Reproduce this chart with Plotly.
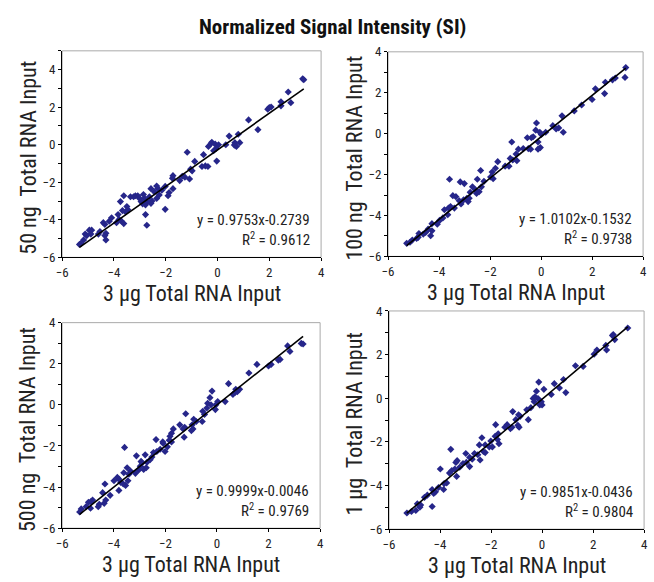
import plotly.graph_objects as go

# ---------------- data ----------------
panel_names = ["50 ng", "100 ng", "500 ng", "1 µg"]
x_title = "3 µg Total RNA Input"
y_titles = ["50 ng\u00a0 Total RNA Input", "100 ng\u00a0 Total RNA Input",
            "500 ng\u00a0 Total RNA Input", "1 µg\u00a0 Total RNA Input"]
slopes = [0.9753, 1.0102, 0.9999, 0.9851]
intercepts = [-0.2739, -0.1532, -0.0046, -0.0436]
r_squared = [0.9612, 0.9738, 0.9769, 0.9804]
eq_labels = ["y = 0.9753x-0.2739", "y = 1.0102x-0.1532", "y = 0.9999x-0.0046", "y = 0.9851x-0.0436"]
r2_labels = ["0.9612", "0.9738", "0.9769", "0.9804"]

x_50ng = [3.29, 3.33, 2.73, 2.83, 2.45, 2.45, 2.07, 1.94, 2.0, 1.2, 1.56, 0.8, 0.67, 0.73, 0.65, 0.45, 0.32, 0.86,
          -0.24, -0.22, -0.09, 0.04, -0.05, -0.15, -0.35, -0.03, -0.54, -0.47, -0.6, -0.37, -1.17, -0.88, -0.98,
          -1.04, -1.08, -1.26, -1.36, -1.46, -1.72, -1.74, -1.72, -1.87, -1.91, -2.02, -2.02, -2.15, -2.25, -2.3,
          -2.35, -2.35, -2.44, -2.53, -2.57, -2.57, -2.63, -2.72, -2.73, -2.78, -2.78, -2.82, -2.86, -2.89, -3.01,
          -2.95, -3.08, -3.17, -3.24, -3.36, -3.46, -3.5, -3.55, -3.62, -3.67, -3.75, -3.62, -3.71, -3.8, -3.84,
          -3.9, -4.09, -4.18, -4.35, -4.41, -4.31, -4.35, -4.31, -4.54, -4.6, -4.86, -4.95, -4.89, -5.05, -5.11,
          -5.17, -5.28, -5.33]
y_50ng = [3.51, 3.46, 2.81, 2.24, 2.29, 2.07, 2.01, 1.89, 1.98, 1.32, 0.8, 0.56, 0.11, -0.09, -0.02, 0.46, 0.0, 0.11,
          0.08, 0.13, 0.03, 0.0, -0.2, -0.32, -0.09, -0.87, -0.53, -1.13, -1.16, -1.16, -0.4, -0.89, -1.39,
          -1.3, -1.82, -1.73, -1.68, -1.91, -1.65, -1.79, -2.34, -2.55, -2.72, -2.22, -3.44, -2.42, -2.68, -2.34,
          -2.2, -2.86, -2.51, -3.0, -2.34, -3.12, -2.77, -3.03, -4.29, -3.72, -3.2, -2.86, -2.65, -3.15, -2.86,
          -3.03, -2.72, -2.72, -2.77, -2.77, -3.46, -3.29, -3.58, -2.72, -3.51, -3.03, -4.2, -4.07, -3.98, -3.72,
          -4.15, -3.89, -4.07, -4.24, -4.15, -4.72, -4.84, -5.07, -4.62, -4.76, -4.55, -4.55, -4.76, -4.84, -4.76,
          -5.07, -5.27, -5.31]

x_100ng = [3.32, 3.29, 2.91, 2.8, 2.52, 2.49, 2.13, 2.0, 1.59, 1.3, 0.82, 0.87, 0.69, 0.59, 0.46, 0.18, 0.01, -0.05,
           -0.12, -0.03, -0.18, -0.21, -0.31, -0.38, -0.54, -0.12, -0.5, -0.41, -0.7, -1.15, -0.89, -0.98, -0.95,
           -1.11, -1.21, -1.26, -1.41, -1.7, -1.79, -1.92, -1.88, -1.98, -2.24, -2.37, -2.34, -2.5, -2.53, -2.43,
           -2.56, -2.69, -2.78, -2.82, -2.86, -2.91, -3.04, -3.01, -3.17, -3.14, -3.21, -3.34, -3.46, -3.4, -3.55,
           -3.59, -3.66, -3.63, -3.79, -3.85, -3.98, -4.07, -4.28, -4.33, -4.28, -4.43, -4.53, -4.62, -4.79, -4.82,
           -4.88, -5.05, -5.14, -5.27]
y_100ng = [3.23, 2.75, 2.72, 2.63, 2.51, 1.96, 2.19, 1.67, 1.4, 1.11, 0.87, 0.07, 0.28, 0.23, 0.39, 0.07, -0.04, 0.07,
           -0.41, -0.68, 0.52, 0.17, -0.15, -0.2, -0.2, -0.76, -0.73, -0.76, -0.73, -0.41, -0.76, -1.0, -1.32,
           -1.29, -1.21, -1.59, -1.59, -1.37, -1.69, -1.88, -2.2, -2.12, -2.33, -1.8, -2.6, -2.23, -2.92, -2.84,
           -2.76, -2.6, -2.87, -3.16, -3.32, -3.16, -3.24, -2.44, -2.36, -3.44, -3.28, -3.08, -3.03, -3.64, -3.56,
           -2.23, -3.96, -3.64, -3.72, -4.12, -4.24, -4.43, -4.4, -4.99, -4.75, -4.67, -4.83, -4.91, -4.88, -5.07,
           -5.12, -5.2, -5.31, -5.36]

x_500ng = [3.27, 3.34, 2.74, 2.83, 2.45, 2.38, 2.1, 2.0, 1.55, 1.24, 0.88, 0.79, 0.73, 0.7, 0.62, 0.45, 0.32, 0.03,
           -0.04, -0.06, -0.19, -0.27, -0.36, -0.23, -0.39, -0.48, -0.55, -0.57, -0.8, -0.9, -0.96, -0.93, -0.99,
           -1.21, -1.25, -1.31, -1.27, -1.44, -1.69, -1.76, -1.82, -1.85, -1.76, -1.92, -2.1, -2.08, -2.01, -2.2,
           -2.33, -2.36, -2.46, -2.52, -2.59, -2.71, -2.74, -2.84, -2.78, -2.9, -2.94, -2.97, -3.03, -3.12, -3.16,
           -3.35, -3.41, -3.48, -3.58, -3.61, -3.45, -3.54, -3.63, -3.73, -3.8, -3.86, -3.8, -3.99, -4.14, -4.34,
           -4.31, -4.37, -4.43, -4.56, -4.6, -4.82, -4.88, -4.9, -4.98, -5.07, -5.26, -5.32]
y_500ng = [2.99, 2.96, 2.87, 2.6, 2.21, 2.18, 1.97, 1.89, 1.97, 1.55, 0.76, 0.64, 0.76, 0.6, 0.51, 1.03, 0.16, 0.16,
           0.0, -0.23, 0.67, 0.35, 0.08, 0.0, -0.15, -0.47, -0.31, -0.81, -0.81, -0.7, -0.97, -1.17, -1.25,
           -0.43, -1.09, -1.17, -1.57, -0.97, -1.17, -1.38, -1.53, -1.72, -1.8, -2.04, -1.8, -1.88, -2.27, -2.16,
           -2.27, -1.69, -2.32, -2.54, -2.67, -2.79, -3.06, -3.14, -2.43, -2.82, -2.75, -2.98, -3.17, -2.48, -3.33,
           -3.22, -3.37, -3.06, -2.07, -3.3, -3.69, -3.92, -3.85, -3.77, -3.61, -3.53, -4.16, -3.69, -4.4, -3.85,
           -4.63, -4.79, -4.27, -4.84, -4.95, -4.63, -4.71, -5.03, -4.74, -4.95, -5.06, -5.21]

x_1ug = [3.36, 2.79, 2.85, 2.76, 2.5, 2.53, 2.15, 2.04, 1.61, 1.31, 0.93, 0.84, 0.68, 0.48, 0.36, 0.07, 0.0, -0.09,
         -0.03, -0.13, -0.22, -0.28, -0.16, -0.31, -0.35, -0.44, -0.54, -0.6, -0.86, -0.92, -0.95, -0.9, -1.15,
         -1.03, -1.18, -1.24, -1.37, -1.46, -1.82, -1.72, -1.84, -1.75, -1.69, -2.01, -2.07, -1.95, -2.23, -2.36,
         -2.3, -2.23, -2.46, -2.52, -2.43, -2.65, -2.74, -2.84, -2.99, -2.97, -2.84, -3.1, -3.23, -3.33, -3.38,
         -3.35, -3.42, -3.54, -3.58, -3.63, -3.74, -3.84, -3.86, -3.99, -4.06, -4.18, -4.25, -4.31, -4.31, -4.5,
         -4.61, -4.76, -4.89, -4.79, -4.95, -5.12, -5.3]
y_1ug = [3.22, 2.92, 2.69, 2.87, 2.42, 2.21, 2.21, 2.02, 1.46, 1.49, 0.26, 0.86, 0.47, 0.67, 0.17, 0.41, -0.31, -0.31,
         -0.16, 0.74, 0.32, 0.07, -0.01, -0.16, -0.01, -0.43, -0.98, -0.53, -0.83, -0.76, -1.24, -1.33, -0.61,
         -0.98, -1.33, -1.39, -1.21, -1.33, -1.21, -1.63, -1.74, -1.89, -2.08, -1.96, -2.23, -2.23, -2.14, -1.81,
         -2.44, -2.49, -2.14, -2.59, -2.83, -2.53, -2.79, -2.71, -2.53, -2.94, -3.13, -2.99, -3.16, -2.86, -2.94,
         -3.58, -3.24, -3.31, -2.34, -3.43, -3.88, -3.91, -4.18, -3.24, -4.09, -4.29, -4.36, -4.18, -4.96, -4.44,
         -4.54, -4.89, -4.84, -4.99, -5.14, -5.19, -5.26]

x_data = [x_50ng, x_100ng, x_500ng, x_1ug]
y_data = [y_50ng, y_100ng, y_500ng, y_1ug]
y_ranges = [[-6, 5], [-6, 4], [-6, 4], [-6, 4]]

# ---------------- layout geometry (pixels) ----------------
W, H = 654, 582
# left, right, top, bottom of each plot area
boxes = [(57, 320, 45, 257), (388, 647, 46, 256), (57, 319, 324, 535), (389, 648, 312, 536)]

FONT = "Liberation Sans Narrow, Arial Narrow, Roboto Condensed, Liberation Sans, Arial, sans-serif"
MARK = "#26268a"

fig = go.Figure()
annotations = []
shapes = []
for i in range(4):
    xa = "x" if i == 0 else f"x{i+1}"
    ya = "y" if i == 0 else f"y{i+1}"
    L, R, T, B = boxes[i]
    fig.add_trace(go.Scatter(x=x_data[i], y=y_data[i], mode="markers", xaxis=xa, yaxis=ya,
                             marker=dict(symbol="diamond", size=5.5, color=MARK, line=dict(width=0)),
                             showlegend=False, hoverinfo="x+y"))
    xs = [min(x_data[i]), max(x_data[i])]
    ys = [slopes[i] * v + intercepts[i] for v in xs]
    fig.add_trace(go.Scatter(x=xs, y=ys, mode="lines", xaxis=xa, yaxis=ya,
                             line=dict(color="black", width=1.6), showlegend=False, hoverinfo="skip"))
    axis_common = dict(showgrid=False, zeroline=False, showline=True, linecolor="black", linewidth=1,
                       ticks="outside", ticklen=3, tickcolor="black",
                       tickfont=dict(family=FONT, size=13, color="#222"))
    fig.update_layout(**{
        ("xaxis" if i == 0 else f"xaxis{i+1}"): dict(
            domain=[L / W, R / W], anchor=ya, range=[-6, 4], dtick=2, tick0=-6, **axis_common),
        ("yaxis" if i == 0 else f"yaxis{i+1}"): dict(
            domain=[1 - B / H, 1 - T / H], anchor=xa, range=y_ranges[i], tickvals=[-6, -4, -2, 0, 2, 4],
            minor=dict(dtick=1, tick0=0, ticks="outside", ticklen=3, tickcolor="black"), **axis_common),
    })
    shapes.append(dict(type="rect", xref=f"{xa} domain", yref=f"{ya} domain", x0=0, x1=1, y0=0, y1=1,
                       line=dict(color="#a9a9a9", width=1), layer="below"))
    # axis titles
    annotations.append(dict(text=x_title, xref="paper", yref="paper", x=(L + R) / 2 / W,
                            y=1 - (B + 37) / H, xanchor="center", yanchor="middle", showarrow=False,
                            font=dict(family=FONT, size=22, color="#222")))
    annotations.append(dict(text=y_titles[i], xref="paper", yref="paper", x=(L - 35) / W,
                            y=1 - ((T + B) / 2 + 4) / H, xanchor="center", yanchor="middle", textangle=-90,
                            showarrow=False, font=dict(family=FONT, size=22, color="#222")))
    # equation
    annotations.append(dict(text=eq_labels[i], xref="paper", yref="paper", x=(R - 9) / W,
                            y=1 - (B - 38) / H, xanchor="right", yanchor="middle", showarrow=False,
                            font=dict(family=FONT, size=15, color="#222")))
    annotations.append(dict(text="R<sup>2</sup> = " + r2_labels[i], xref="paper", yref="paper", x=(R - 9) / W,
                            y=1 - (B - 19) / H, xanchor="right", yanchor="middle", showarrow=False,
                            font=dict(family=FONT, size=15, color="#222")))

annotations.append(dict(text="<b>Normalized Signal Intensity (SI)</b>", xref="paper", yref="paper",
                        x=332 / W, y=1 - 21 / H, xanchor="center", yanchor="middle", showarrow=False,
                        font=dict(family=FONT, size=21, color="#111")))

fig.update_layout(width=W, height=H, margin=dict(l=0, r=0, t=0, b=0), autosize=False,
                  paper_bgcolor="white", plot_bgcolor="white",
                  annotations=annotations, shapes=shapes)

fig.write_html("out.html", config={"displayModeBar": False},
               post_script="document.body.style.margin='0px';")
